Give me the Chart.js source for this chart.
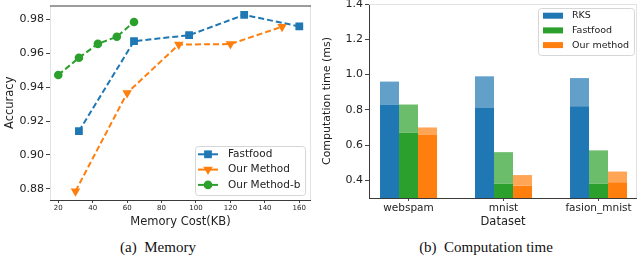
<!DOCTYPE html>
<html>
<head>
<meta charset="utf-8">
<script src="https://cdn.jsdelivr.net/npm/chart.js@4/dist/chart.umd.min.js"></script>
<style>
  body { margin: 0; background: #fff; width: 640px; height: 259px; overflow: hidden; position: relative; }
  .panel { position: absolute; top: 0; width: 320px; height: 230px; }
  .caption { position: absolute; top: 239px; width: 320px; text-align: center; white-space: pre;
             font-family: "Liberation Serif", "DejaVu Serif", serif; font-size: 15px; color: #111; }
</style>
</head>
<body>
<div class="panel" style="left:0"><canvas id="memChart" width="320" height="230"></canvas></div>
<div class="panel" style="left:320px"><canvas id="timeChart" width="320" height="230"></canvas></div>
<div class="caption" style="left:-2px">(a)  Memory</div>
<div class="caption" style="left:326px">(b)  Computation time</div>
<script>
// (a) accuracy vs memory
const memFastfoodX = [32, 64, 96, 128, 160];
const memFastfoodY = [0.914, 0.967, 0.9705, 0.9825, 0.9757];
const memOursX = [30, 60, 90, 120, 150];
const memOursY = [0.8787, 0.9365, 0.965, 0.9653, 0.9755];
const memOursBX = [20, 32, 43, 54, 64];
const memOursBY = [0.9471, 0.9572, 0.9654, 0.9696, 0.9783];
const memXTicks = [20, 40, 60, 80, 100, 120, 140, 160];
const memYTicks = [0.88, 0.9, 0.92, 0.94, 0.96, 0.98];

// (b) computation time, dark part + light top part
const datasetNames = ["webspam", "mnist", "fasion_mnist"];
const rksBase = [0.83, 0.81, 0.82];
const rksTotal = [0.96, 0.99, 0.98];
const fastfoodBase = [0.67, 0.38, 0.38];
const fastfoodTotal = [0.83, 0.56, 0.57];
const ourBase = [0.66, 0.37, 0.39];
const ourTotal = [0.70, 0.43, 0.45];
const timeYTicks = [0.4, 0.6, 0.8, 1.0, 1.2, 1.4];

const BLUE = "#1f77b4", ORANGE = "#ff7f0e", GREEN = "#2ca02c";
const BLUE_L = "rgba(31,119,180,0.7)", ORANGE_L = "rgba(255,127,14,0.7)", GREEN_L = "rgba(44,160,44,0.7)";
const FONT = "'DejaVu Sans', sans-serif";
const INK = "#222";
const DARK = "#3a3a3a", LIGHT = "#e2e2e2";

const spinePlugin = {
  id: "spines",
  afterDatasetsDraw(chart, args, opts) {
    const { ctx, chartArea: a } = chart;
    const line = (color, x1, y1, x2, y2) => {
      ctx.beginPath();
      ctx.strokeStyle = color;
      ctx.moveTo(x1, y1);
      ctx.lineTo(x2, y2);
      ctx.stroke();
    };
    ctx.save();
    ctx.lineWidth = 1;
    line(opts.left, a.left + 0.5, a.top, a.left + 0.5, a.bottom);
    line(opts.right, a.right - 0.5, a.top, a.right - 0.5, a.bottom);
    line(opts.top, a.left, a.top + 0.5, a.right, a.top + 0.5);
    line(opts.bottom, a.left, a.bottom + 0.5, a.right, a.bottom + 0.5);
    ctx.restore();
  }
};

function drawMarker(ctx, style, x, y, r, color) {
  ctx.fillStyle = color;
  ctx.beginPath();
  if (style === "rect") {
    const s = r * Math.SQRT1_2;
    ctx.rect(x - s, y - s, 2 * s, 2 * s);
  } else if (style === "triangle") {
    ctx.moveTo(x, y + r);
    ctx.lineTo(x - r * 0.866, y - r * 0.5);
    ctx.lineTo(x + r * 0.866, y - r * 0.5);
    ctx.closePath();
  } else {
    ctx.arc(x, y, r, 0, Math.PI * 2);
  }
  ctx.fill();
}

const boxLegendPlugin = {
  id: "boxLegend",
  afterDraw(chart, args, opts) {
    const ctx = chart.ctx;
    const items = chart.data.datasets.filter(d => !d.noLegend);
    ctx.save();
    ctx.fillStyle = "rgba(255,255,255,0.85)";
    ctx.strokeStyle = "#d6d6d6";
    ctx.lineWidth = 1;
    ctx.beginPath();
    if (ctx.roundRect) ctx.roundRect(opts.x + 0.5, opts.y + 0.5, opts.w, opts.h, 3);
    else ctx.rect(opts.x + 0.5, opts.y + 0.5, opts.w, opts.h);
    ctx.fill();
    ctx.stroke();
    ctx.font = opts.font;
    ctx.textBaseline = "middle";
    items.forEach((d, i) => {
      const cy = opts.y + opts.firstRow + i * opts.rowH;
      if (opts.kind === "line") {
        ctx.strokeStyle = d.borderColor;
        ctx.lineWidth = 2;
        ctx.beginPath();
        ctx.moveTo(opts.x + 3, cy);
        ctx.lineTo(opts.x + 23, cy);
        ctx.stroke();
        drawMarker(ctx, d.pointStyle, opts.x + 13, cy, d.pointRadius, d.borderColor);
      } else {
        ctx.fillStyle = d.backgroundColor;
        ctx.fillRect(opts.x + 5, cy - 3, 20, 6);
      }
      ctx.fillStyle = INK;
      ctx.fillText(d.label, opts.x + opts.textX, cy);
    });
    ctx.restore();
  }
};

const tickGrid = { drawOnChartArea: false, drawTicks: true, tickLength: 3, color: "#444" };

new Chart(document.getElementById("memChart"), {
  type: "line",
  data: {
    datasets: [
      {
        label: "Fastfood", order: 2,
        data: memFastfoodX.map((x, i) => ({ x, y: memFastfoodY[i] })),
        borderColor: BLUE, backgroundColor: BLUE, pointStyle: "rect", pointRadius: 5.5
      },
      {
        label: "Our Method", order: 1,
        data: memOursX.map((x, i) => ({ x, y: memOursY[i] })),
        borderColor: ORANGE, backgroundColor: ORANGE, pointStyle: "triangle", pointRotation: 180, pointRadius: 5.5
      },
      {
        label: "Our Method-b", order: 0,
        data: memOursBX.map((x, i) => ({ x, y: memOursBY[i] })),
        borderColor: GREEN, backgroundColor: GREEN, pointStyle: "circle", pointRadius: 4.3
      }
    ]
  },
  options: {
    responsive: false,
    animation: false,
    devicePixelRatio: 1,
    layout: { padding: { left: 0, top: 1, right: 9, bottom: 0 } },
    elements: {
      line: { borderWidth: 2, borderDash: [6, 3], tension: 0, fill: false },
      point: { borderWidth: 0, hoverRadius: 5 }
    },
    plugins: {
      legend: { display: false },
      tooltip: { enabled: false },
      spines: { top: DARK, bottom: DARK, left: LIGHT, right: LIGHT },
      boxLegend: { kind: "line", x: 195, y: 146, w: 110, h: 49, firstRow: 8.3, rowH: 15.3, textX: 33, font: "10.5px " + FONT }
    },
    scales: {
      x: {
        type: "linear", min: 15.2, max: 166.8, offset: false,
        afterBuildTicks: s => { s.ticks = memXTicks.map(v => ({ value: v })); },
        afterFit: s => { s.height = 30; s.paddingLeft = 0; s.paddingRight = 0; },
        grid: tickGrid,
        border: { display: false },
        ticks: { font: { family: FONT, size: 7 }, color: INK, padding: 1, maxRotation: 0 },
        title: { display: true, text: "Memory Cost(KB)", font: { family: FONT, size: 11.5 }, color: INK, padding: { top: 0, bottom: 1.5 } }
      },
      y: {
        min: 0.8735, max: 0.988,
        afterBuildTicks: s => { s.ticks = memYTicks.map(v => ({ value: v })); },
        afterFit: s => { s.width = 50; s.paddingTop = 0; s.paddingBottom = 0; },
        grid: { ...tickGrid, tickLength: 4 },
        border: { display: false },
        ticks: { font: { family: FONT, size: 11 }, color: INK, padding: 2, callback: v => v.toFixed(2) },
        title: { display: true, text: "Accuracy", font: { family: FONT, size: 11.5 }, color: INK, padding: { top: 3, bottom: 0 } }
      }
    }
  },
  plugins: [spinePlugin, boxLegendPlugin]
});

const bars = (vals, lo) => datasetNames.map((_, i) => ({ x: i, y: [lo ? lo[i] : 0, vals[i]] }));

new Chart(document.getElementById("timeChart"), {
  type: "bar",
  data: {
    datasets: [
      { label: "RKS", stack: "rks", data: bars(rksBase), backgroundColor: BLUE },
      { label: "RKS", stack: "rks", data: bars(rksTotal, rksBase), backgroundColor: BLUE_L, noLegend: true },
      { label: "Fastfood", stack: "ff", data: bars(fastfoodBase), backgroundColor: GREEN },
      { label: "Fastfood", stack: "ff", data: bars(fastfoodTotal, fastfoodBase), backgroundColor: GREEN_L, noLegend: true },
      { label: "Our method", stack: "our", data: bars(ourBase), backgroundColor: ORANGE },
      { label: "Our method", stack: "our", data: bars(ourTotal, ourBase), backgroundColor: ORANGE_L, noLegend: true }
    ]
  },
  options: {
    responsive: false,
    animation: false,
    devicePixelRatio: 1,
    layout: { padding: { left: 0, top: 4, right: 3, bottom: 0 } },
    datasets: { bar: { categoryPercentage: 0.6, barPercentage: 1, borderWidth: 0 } },
    plugins: {
      legend: { display: false },
      tooltip: { enabled: false },
      spines: { top: LIGHT, bottom: DARK, left: DARK, right: LIGHT },
      boxLegend: { kind: "bar", x: 218, y: 8, w: 96, h: 47, firstRow: 7.7, rowH: 14.7, textX: 34, font: "9.5px " + FONT }
    },
    scales: {
      x: {
        type: "linear", stacked: true, offset: false, min: -0.416, max: 2.405,
        afterBuildTicks: s => { s.ticks = datasetNames.map((_, i) => ({ value: i })); },
        afterFit: s => { s.height = 32; s.paddingLeft = 0; s.paddingRight = 0; },
        grid: { ...tickGrid, offset: false },
        border: { display: false },
        ticks: { font: { family: FONT, size: 10.5 }, color: INK, padding: 1, maxRotation: 0, callback: v => datasetNames[v] },
        title: { display: true, text: "Dataset", font: { family: FONT, size: 11.5 }, color: INK, padding: { top: 0, bottom: 1.5 } }
      },
      y: {
        stacked: false, min: 0.3, max: 1.4,
        afterBuildTicks: s => { s.ticks = timeYTicks.map(v => ({ value: v })); },
        afterFit: s => { s.width = 49; s.paddingTop = 0; s.paddingBottom = 0; },
        grid: { ...tickGrid, tickLength: 4 },
        border: { display: false },
        ticks: { font: { family: FONT, size: 11 }, color: INK, padding: 2, callback: v => v.toFixed(1) },
        title: { display: true, text: "Computation time (ms)", font: { family: FONT, size: 11 }, color: INK, padding: { top: 1, bottom: 0 } }
      }
    }
  },
  plugins: [spinePlugin, boxLegendPlugin]
});
</script>
</body>
</html>
